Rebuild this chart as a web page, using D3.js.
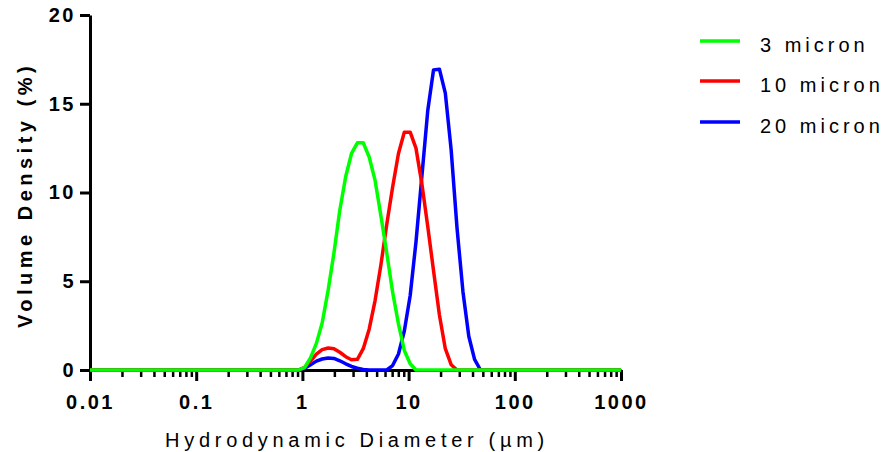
<!DOCTYPE html>
<html>
<head>
<meta charset="utf-8">
<script src="https://cdn.jsdelivr.net/npm/d3@7"></script>
<style>
  body { margin: 0; background: #fff; }
  svg { display: block; font-family: "Liberation Sans", Arial, sans-serif; }
</style>
</head>
<body>
<svg id="chart" width="888" height="452"></svg>
<script>
// particle size classes (µm), bin centres
const sizes = [0.01, 0.925, 1.051, 1.194, 1.354, 1.535, 1.748, 1.983, 2.249, 2.558, 2.900,
  3.294, 3.742, 4.253, 4.829, 5.479, 6.225, 7.068, 8.027, 9.114, 10.35, 11.73, 13.33, 15.14,
  17.16, 19.51, 22.17, 25.16, 28.57, 32.51, 36.88, 41.79, 47.54, 53.94, 61.30, 1000];

// volume density (%) per size class
const micron3 = [0, 0, 0.15, 0.7, 1.5, 2.65, 4.5, 6.6, 9.0, 10.9, 12.2,
  12.8, 12.8, 12.0, 10.7, 8.7, 6.6, 4.4, 2.6, 1.1, 0.35, 0, 0, 0,
  0, 0, 0, 0, 0, 0, 0, 0, 0, 0, 0, 0];
const micron10 = [0, 0, 0.15, 0.5, 0.9, 1.15, 1.24, 1.2, 1.0, 0.75, 0.58,
  0.6, 1.2, 2.3, 3.9, 5.9, 8.2, 10.3, 12.2, 13.4, 13.4, 12.5, 10.5, 8.1,
  5.6, 3.1, 1.2, 0.3, 0, 0, 0, 0, 0, 0, 0, 0];
const micron20 = [0, 0, 0.1, 0.3, 0.5, 0.62, 0.68, 0.65, 0.52, 0.35, 0.2,
  0.1, 0.03, 0, 0, 0, 0, 0.25, 0.9, 2.2, 4.2, 7.2, 10.9, 14.6,
  16.9, 16.95, 15.6, 12.4, 8.0, 4.4, 1.9, 0.6, 0, 0, 0, 0];

const seriesNames = ["3 micron", "10 micron", "20 micron"];
const seriesColors = ["#00ff00", "#ff0000", "#0000ff"];
const seriesValues = [micron3, micron10, micron20];

const xMajor = [0.01, 0.1, 1, 10, 100, 1000];
const yTicks = [0, 5, 10, 15, 20];

const svg = d3.select("#chart");

const x = d3.scaleLog().domain([0.01, 1000]).range([90, 621]);
const y = d3.scaleLinear().domain([0, 20]).range([370, 15]);

// minor ticks 2..9 per decade
const xMinor = [];
xMajor.slice(0, -1).forEach((d) => {
  for (let k = 2; k <= 9; k++) xMinor.push(d * k);
});

// x axis minor ticks
svg.append("g")
  .attr("transform", "translate(0,370)")
  .call(d3.axisBottom(x).tickValues(xMinor).tickFormat("").tickSize(7).tickSizeOuter(0))
  .call((g) => g.select(".domain").remove())
  .call((g) => g.selectAll(".tick line").attr("stroke", "#000").attr("stroke-width", 2.5));

// x axis major
const xAxis = svg.append("g")
  .attr("transform", "translate(0,370)")
  .call(d3.axisBottom(x).tickValues(xMajor).tickFormat((d) => String(d))
    .tickSize(11).tickSizeOuter(0).tickPadding(14));
xAxis.select(".domain").attr("stroke", "#000").attr("stroke-width", 3);
xAxis.selectAll(".tick line").attr("stroke", "#000").attr("stroke-width", 3);
xAxis.selectAll(".tick text")
  .attr("font-size", 20)
  .attr("font-weight", "bold")
  .attr("font-family", "Liberation Sans, Arial, sans-serif")
  .attr("letter-spacing", 2.5)
  .attr("fill", "#000");

// y axis
const yAxis = svg.append("g")
  .attr("transform", "translate(90,0)")
  .call(d3.axisLeft(y).tickValues(yTicks).tickSize(10).tickSizeOuter(0).tickPadding(4));
yAxis.select(".domain").attr("stroke", "#000").attr("stroke-width", 3);
yAxis.selectAll(".tick line").attr("stroke", "#000").attr("stroke-width", 3);
yAxis.selectAll(".tick text")
  .attr("font-size", 20)
  .attr("font-weight", "bold")
  .attr("font-family", "Liberation Sans, Arial, sans-serif")
  .attr("letter-spacing", 2.5)
  .attr("fill", "#000");

// axis titles
svg.append("text")
  .text("Volume Density (%)")
  .attr("transform", "translate(32,195) rotate(-90)")
  .attr("text-anchor", "middle")
  .attr("font-size", 20)
  .attr("font-weight", "bold")
  .attr("letter-spacing", 4.5)
  .attr("fill", "#000");

svg.append("text")
  .text("Hydrodynamic Diameter (µm)")
  .attr("x", 357)
  .attr("y", 447)
  .attr("text-anchor", "middle")
  .attr("font-size", 20)
  .attr("letter-spacing", 4.7)
  .attr("fill", "#000");

// curves (blue first so green ends on top)
const line = d3.line()
  .x((d) => x(d[0]))
  .y((d) => y(d[1]));

[2, 1, 0].forEach((i) => {
  svg.append("path")
    .datum(sizes.map((s, j) => [s, seriesValues[i][j]]))
    .attr("d", line)
    .attr("fill", "none")
    .attr("stroke", seriesColors[i])
    .attr("stroke-width", 3.5)
    .attr("stroke-linejoin", "round");
});

// legend
const legendY = [41, 81, 122];
const legend = svg.append("g");
seriesNames.forEach((name, i) => {
  legend.append("line")
    .attr("x1", 700).attr("x2", 740)
    .attr("y1", legendY[i]).attr("y2", legendY[i])
    .attr("stroke", seriesColors[i])
    .attr("stroke-width", 3.5);
  legend.append("text")
    .text(name)
    .attr("x", 760)
    .attr("y", legendY[i] + 10.5)
    .attr("font-size", 20)
    .attr("letter-spacing", 4)
    .attr("fill", "#000");
});
</script>
</body>
</html>
